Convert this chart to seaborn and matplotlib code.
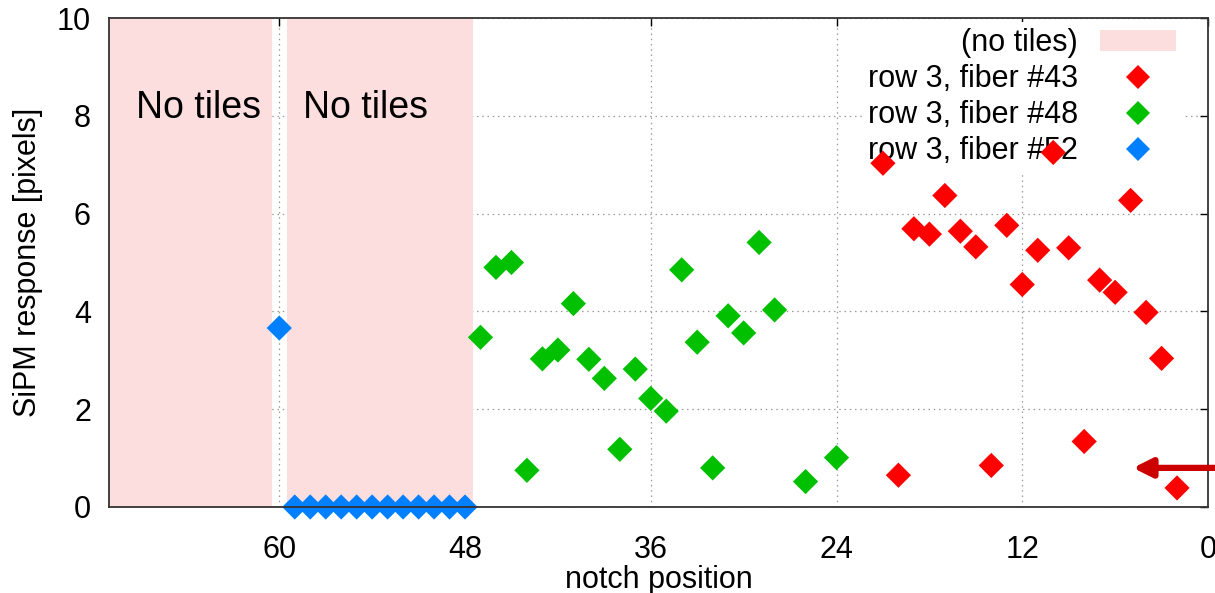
import numpy as np
import pandas as pd
import matplotlib
matplotlib.use("Agg")
import matplotlib.pyplot as plt
import seaborn as sns
from matplotlib.patches import Patch
from matplotlib.lines import Line2D

# fiber #43 (red)
notch_43 = [21, 20, 19, 18, 17, 16, 15, 14, 13, 12, 11, 10, 9, 8, 7, 6, 5, 4, 3, 2]
resp_43 = [7.03, 0.65, 5.69, 5.58, 6.37, 5.64, 5.32, 0.85, 5.76, 4.55,
           5.25, 7.25, 5.30, 1.34, 4.64, 4.39, 6.27, 3.98, 3.04, 0.39]

# fiber #48 (green)
notch_48 = [47, 46, 45, 44, 43, 42, 41, 40, 39, 38, 37, 36, 35, 34, 33, 32,
            31, 30, 29, 28, 26, 24]
resp_48 = [3.47, 4.90, 5.00, 0.75, 3.03, 3.21, 4.16, 3.02, 2.63, 1.18, 2.82,
           2.22, 1.96, 4.85, 3.37, 0.80, 3.91, 3.56, 5.41, 4.03, 0.52, 1.01]

# fiber #52 (blue)
notch_52 = [60, 59, 58, 57, 56, 55, 54, 53, 52, 51, 50, 49, 48]
resp_52 = [3.66, 0, 0, 0, 0, 0, 0, 0, 0, 0, 0, 0, 0]

no_tile_ranges = [(60.5, 71.0), (47.5, 59.5)]
series_names = ["row 3, fiber #43", "row 3, fiber #48", "row 3, fiber #52"]
series_colors = ["#FF0000", "#00C000", "#0080FF"]
pink = "#FDDEDE"

df = pd.concat([
    pd.DataFrame({"notch": notch_43, "resp": resp_43, "fiber": series_names[0]}),
    pd.DataFrame({"notch": notch_48, "resp": resp_48, "fiber": series_names[1]}),
    pd.DataFrame({"notch": notch_52, "resp": resp_52, "fiber": series_names[2]}),
], ignore_index=True)

sns.set_theme(style="white")
plt.rcParams["font.family"] = ["Liberation Sans", "DejaVu Sans"]
plt.rcParams["text.color"] = "black"
plt.rcParams["axes.labelcolor"] = "black"

fig = plt.figure(figsize=(12.15, 5.93), dpi=100)
ax = fig.add_axes([109 / 1215, 1 - 507 / 593, (1208 - 109) / 1215, (507 - 18) / 593])

# shaded "no tiles" regions
for lo, hi in no_tile_ranges:
    ax.axvspan(lo, hi, color=pink, lw=0, zorder=1)

ax.text(65.2, 8.16, "No tiles", fontsize=27, ha="center", va="center", zorder=2)
ax.text(54.4, 8.16, "No tiles", fontsize=27, ha="center", va="center", zorder=2)

sns.scatterplot(
    data=df, x="notch", y="resp", hue="fiber",
    palette=dict(zip(series_names, series_colors)),
    marker="D", s=165, linewidth=0, legend=False, ax=ax, zorder=4, clip_on=False,
)

ax.set_xlim(71, 0)
ax.set_ylim(0, 10)
ax.set_xticks([60, 48, 36, 24, 12, 0])
ax.set_yticks([0, 2, 4, 6, 8, 10])
ax.grid(True, linestyle=(0, (1.2, 3)), color="#9a9a9a", lw=0.9, zorder=0.5)
ax.set_axisbelow(True)

ax.tick_params(direction="in", length=6, width=1, top=True, right=True,
               labelsize=22, colors="black")
ax.tick_params(axis="x", pad=20)
ax.tick_params(axis="y", pad=13)
for sp in ax.spines.values():
    sp.set_color("#333333")
    sp.set_linewidth(1.3)
    sp.set_zorder(5)

ax.set_xlabel("notch position", fontsize=22, labelpad=0)
ax.set_ylabel("SiPM response [pixels]", fontsize=22, labelpad=10)

# legend in gnuplot style: text first, marker after
handles = [Patch(facecolor=pink, edgecolor="none")]
handles += [Line2D([], [], marker="D", color=c, linestyle="none", markersize=12.5,
                   markeredgewidth=0) for c in series_colors]
labels = ["(no tiles)"] + series_names
leg = ax.legend(handles, labels, loc="upper right", markerfirst=False, fontsize=22,
                frameon=True, facecolor="white", edgecolor="none", framealpha=1,
                handlelength=2.5, handletextpad=0.7, labelspacing=0.2,
                borderpad=0.2, bbox_to_anchor=(1.0 - 26 / 1099, 1.0 - 4 / 489),
                borderaxespad=0)
leg.set_zorder(3)

# red arrow pointing in from the right edge
ax.annotate("", xy=(4.85, 0.80), xytext=(-0.6, 0.80),
            arrowprops=dict(arrowstyle="-|>", color="#CC0000", lw=4.5,
                            mutation_scale=28, shrinkA=0, shrinkB=0),
            annotation_clip=False, zorder=6)

fig.savefig("out.png", dpi=100)
